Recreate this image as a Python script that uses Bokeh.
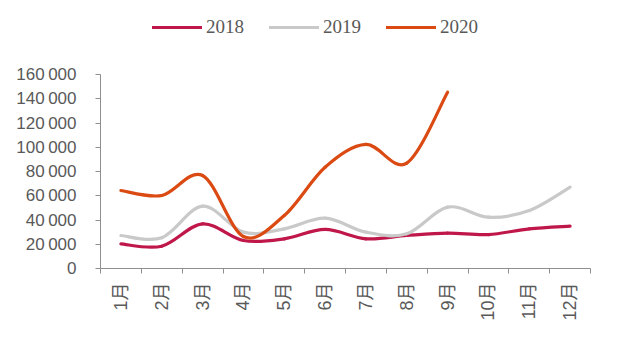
import math
from bokeh.plotting import figure
from bokeh.models import FixedTicker, Legend, LegendItem, Range1d
from bokeh.embed import file_html
from bokeh.resources import INLINE

months = ["1月", "2月", "3月", "4月", "5月", "6月", "7月", "8月", "9月", "10月", "11月", "12月"]
v2018 = [20300, 18400, 36800, 23100, 24500, 32200, 24500, 27200, 29100, 28000, 32700, 34900]
v2019 = [27200, 25300, 51400, 30000, 32700, 41500, 30000, 28600, 50600, 42300, 47800, 67100]
v2020 = [64300, 60200, 76700, 26400, 43700, 83500, 102300, 86900, 145400]
y_ticks = [0, 20000, 40000, 60000, 80000, 100000, 120000, 140000, 160000]
y_tick_labels = ["0", "20\u2009000", "40\u2009000", "60\u2009000", "80\u2009000",
                 "100\u2009000", "120\u2009000", "140\u2009000", "160\u2009000"]

series = [("2018", v2018, "#C0174A"), ("2019", v2019, "#C9C9C9"), ("2020", v2020, "#DA4A12")]

# frame spans y = 5 .. 268 px; 0..160000 occupies the lower 194 px
TOP_PX, AXIS_PX = 263, 194
y_max = y_ticks[-1] * TOP_PX / AXIS_PX

p = figure(width=620, height=345, output_backend="svg", toolbar_location=None,
           x_range=Range1d(0, len(months)), y_range=Range1d(y_ticks[0], y_max),
           min_border_left=100, min_border_right=30, min_border_top=5, min_border_bottom=77)
p.outline_line_color = None
p.xgrid.visible = False
p.ygrid.visible = False
p.background_fill_color = "white"

AX = "#8F8F8F"
LBL = "#595959"

p.xaxis.ticker = FixedTicker(ticks=[i + 0.5 for i in range(len(months))],
                             minor_ticks=list(range(len(months) + 1)))
p.xaxis.major_label_overrides = {i + 0.5: m for i, m in enumerate(months)}
p.xaxis.major_label_orientation = math.pi / 2
p.xaxis.major_tick_out = 0
p.xaxis.major_tick_in = 0
p.xaxis.minor_tick_out = 5
p.xaxis.minor_tick_in = 0
p.xaxis.minor_tick_line_color = AX
p.xaxis.axis_line_color = AX
p.xaxis.major_label_standoff = 9
p.xaxis.major_label_text_font = "Liberation Sans, Noto Sans CJK SC"
p.xaxis.major_label_text_font_size = "18px"
p.xaxis.major_label_text_color = LBL

p.yaxis.ticker = FixedTicker(ticks=y_ticks, minor_ticks=[])
p.yaxis.bounds = (y_ticks[0], y_ticks[-1])
p.yaxis.major_label_overrides = {t: l for t, l in zip(y_ticks, y_tick_labels)}
p.yaxis.major_tick_out = 5
p.yaxis.major_tick_in = 0
p.yaxis.major_tick_line_color = AX
p.yaxis.axis_line_color = AX
p.yaxis.major_label_standoff = 19
p.yaxis.major_label_text_font = "Liberation Sans"
p.yaxis.major_label_text_font_size = "17px"
p.yaxis.major_label_text_color = LBL

items = []
for name, vals, color in series:
    xs = [i + 0.5 for i in range(len(vals))]
    n = len(vals)
    x0, y0, x1, y1, cx0, cy0, cx1, cy1 = [], [], [], [], [], [], [], []
    for i in range(n - 1):
        pm = max(i - 1, 0)
        pp = min(i + 2, n - 1)
        x0.append(xs[i]); y0.append(vals[i])
        x1.append(xs[i + 1]); y1.append(vals[i + 1])
        cx0.append(xs[i] + (xs[i + 1] - xs[pm]) / 6)
        cy0.append(vals[i] + (vals[i + 1] - vals[pm]) / 6)
        cx1.append(xs[i + 1] - (xs[pp] - xs[i]) / 6)
        cy1.append(vals[i + 1] - (vals[pp] - vals[i]) / 6)
    r = p.bezier(x0=x0, y0=y0, x1=x1, y1=y1, cx0=cx0, cy0=cy0, cx1=cx1, cy1=cy1,
                 line_color=color, line_width=3.2, line_cap="round")
    items.append(LegendItem(label=name, renderers=[r]))

legend = Legend(items=items, orientation="horizontal", location=(52, 230),
                glyph_width=50, glyph_height=20, label_standoff=4, spacing=25,
                padding=0, margin=0, border_line_color=None, background_fill_alpha=0,
                label_text_font="Liberation Serif", label_text_font_size="19px",
                label_text_color=LBL)
p.add_layout(legend, "center")

open("out.html", "w").write(file_html(p, INLINE))
